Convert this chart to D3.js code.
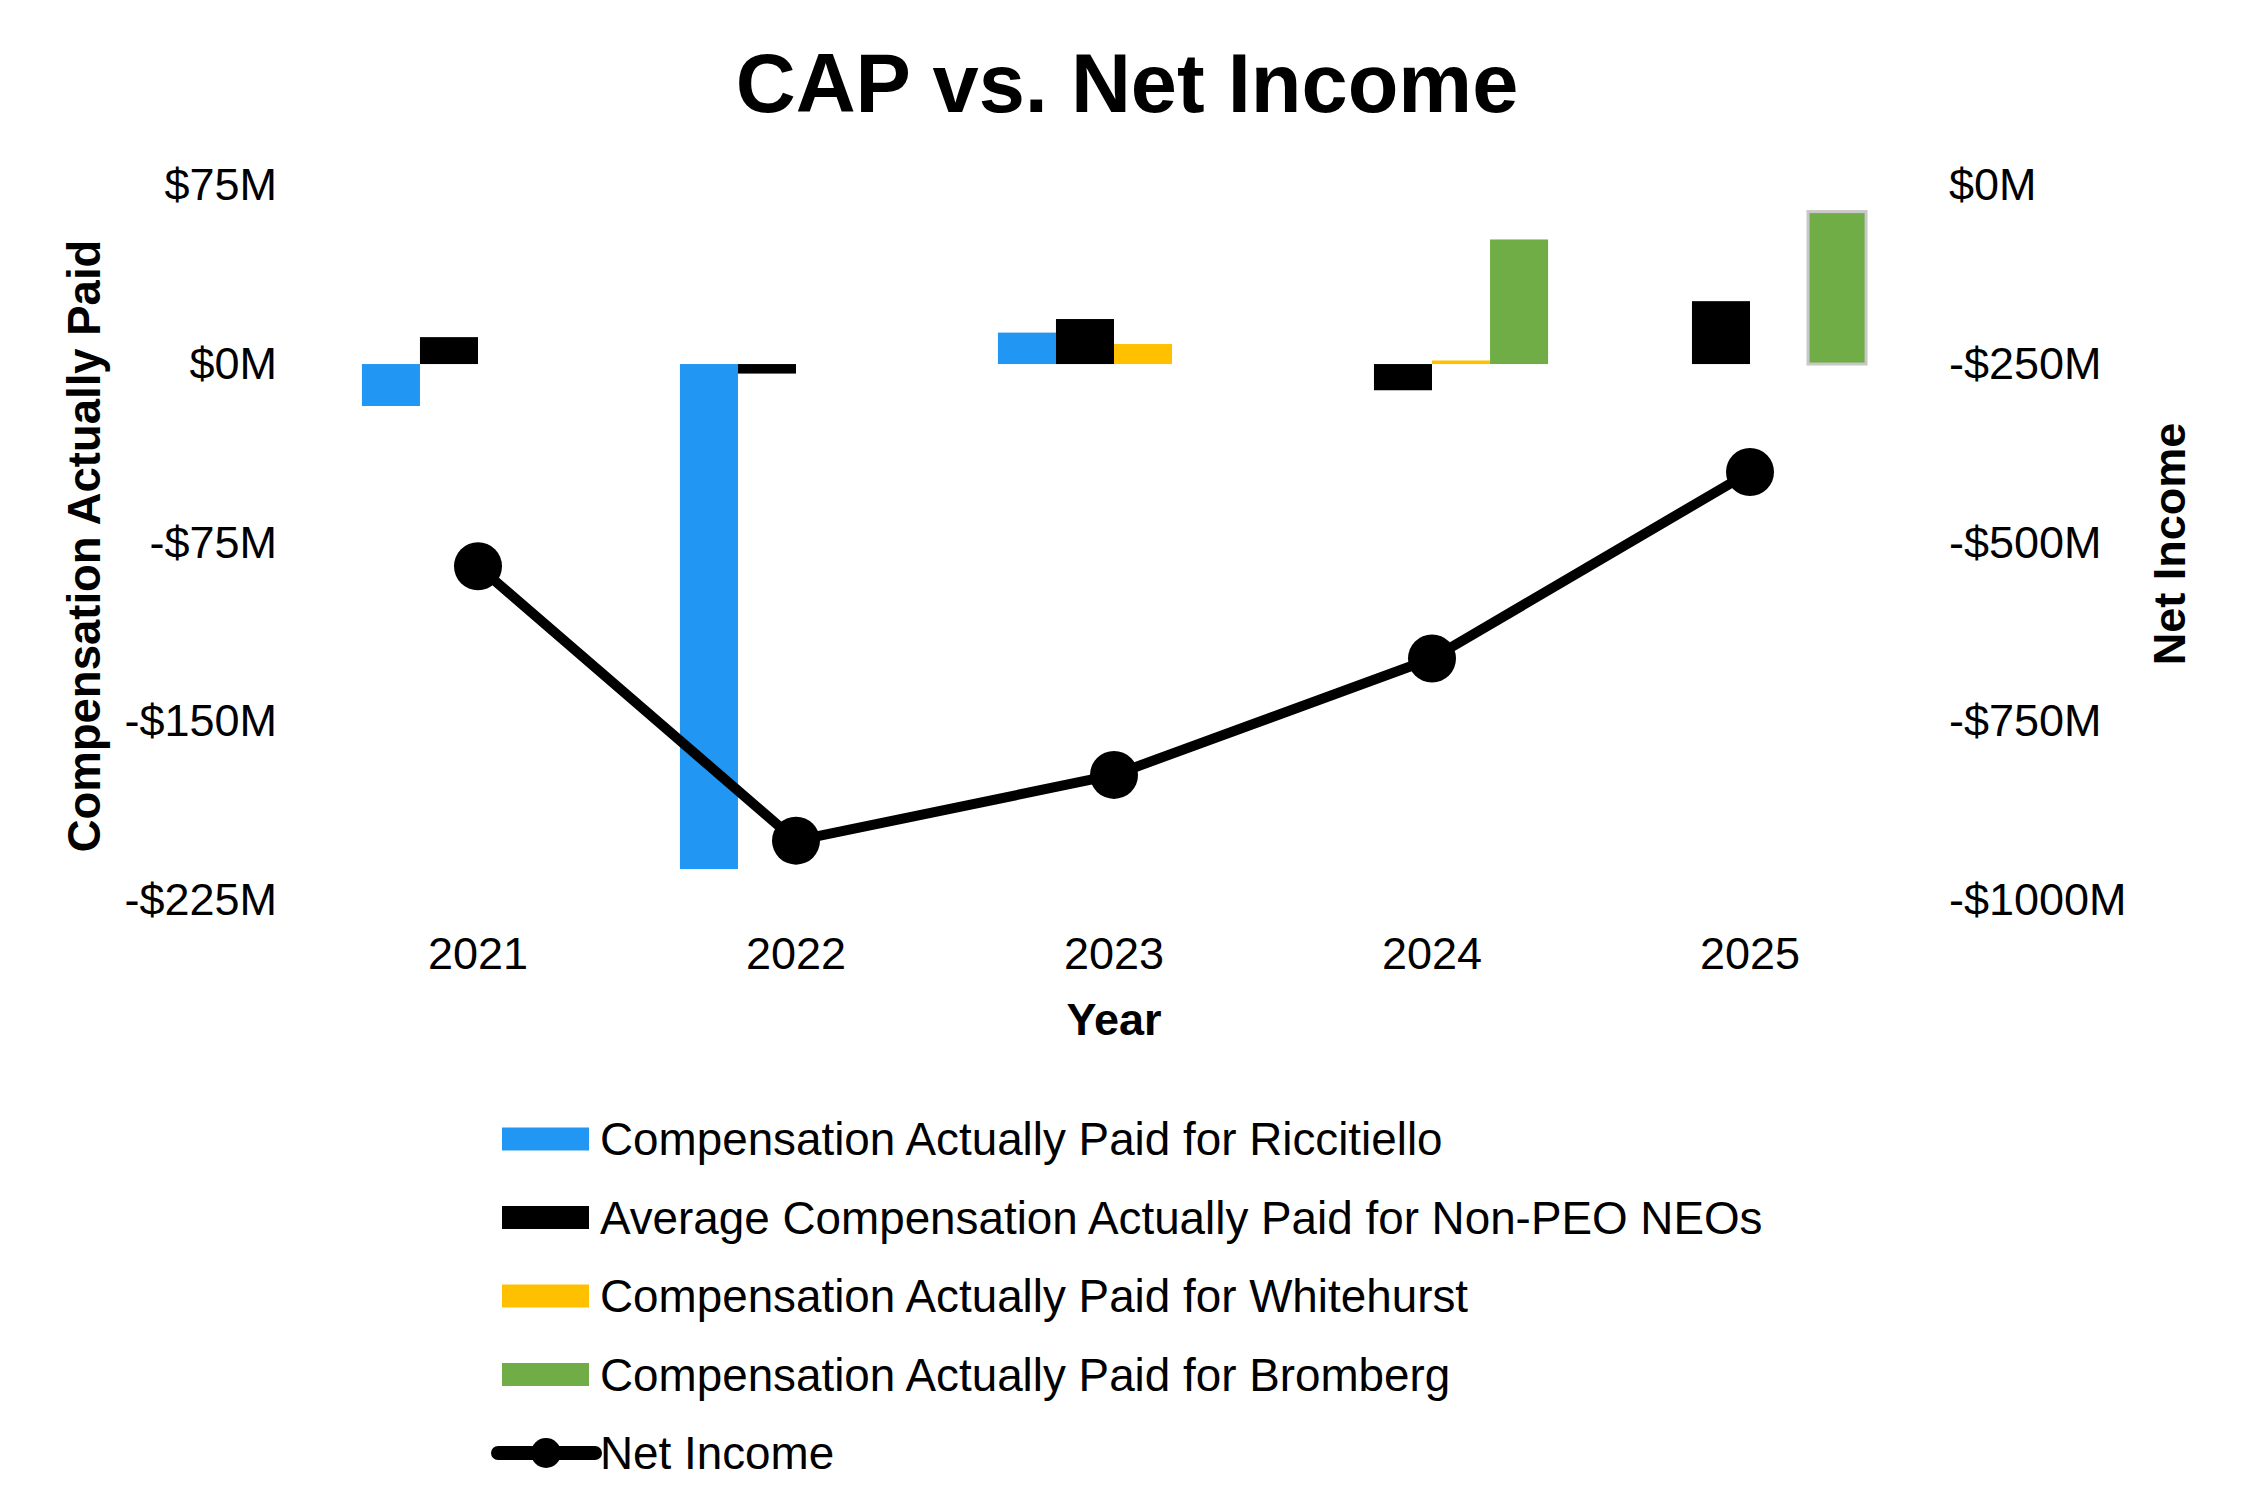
<!DOCTYPE html>
<html>
<head>
<meta charset="utf-8">
<script src="https://cdn.jsdelivr.net/npm/d3@7"></script>
<style>
  body { margin: 0; background: #fff; }
  text { font-family: "Liberation Sans", Arial, sans-serif; fill: #000; }
</style>
</head>
<body>
<div id="chart"></div>
<script>
// Data (values in $M)
const years = ['2021', '2022', '2023', '2024', '2025'];
const capRiccitiello = [-17.6, -212, 13.2, null, null];
const capNonPeo = [11.3, -4, 18.9, -11, 26.4];
const capWhitehurst = [null, null, 8.4, 1.5, null];
const capBromberg = [null, null, null, 52.3, 64];
const netIncome = [-533, -917, -825, -662, -401];

const leftTicks = [75, 0, -75, -150, -225];
const rightTicks = [0, -250, -500, -750, -1000];

const seriesNames = [
  'Compensation Actually Paid for Riccitiello',
  'Average Compensation Actually Paid for Non-PEO NEOs',
  'Compensation Actually Paid for Whitehurst',
  'Compensation Actually Paid for Bromberg'
];
const seriesValues = [capRiccitiello, capNonPeo, capWhitehurst, capBromberg];
const seriesColors = ['#2196F3', '#000000', '#FFC000', '#70AD47'];
const lineName = 'Net Income';

const width = 2252, height = 1512;
const plot = { left: 319, right: 1909, top: 185.4, bottom: 900 };

const svg = d3.select('#chart')
  .append('svg')
  .attr('width', width)
  .attr('height', height);

// Scales
const x0 = d3.scaleBand()
  .domain(years)
  .range([plot.left, plot.right])
  .paddingInner(0.27)
  .paddingOuter(0.135);

const x1 = d3.scaleBand()
  .domain(d3.range(seriesNames.length))
  .range([0, x0.bandwidth()]);

const yLeft = d3.scaleLinear().domain([-225, 75]).range([plot.bottom, plot.top]);
const yRight = d3.scaleLinear().domain([-1000, 0]).range([plot.bottom, plot.top]);

const moneyFormat = d => (d < 0 ? '-$' : '$') + Math.abs(d) + 'M';

// Title
svg.append('text')
  .attr('x', 1127)
  .attr('y', 112)
  .attr('text-anchor', 'middle')
  .style('font-size', '83px')
  .style('font-weight', 'bold')
  .text('CAP vs. Net Income');

// Left axis (labels only)
const leftAxis = svg.append('g')
  .attr('transform', 'translate(277,0)')
  .call(d3.axisLeft(yLeft).tickValues(leftTicks).tickSize(0).tickPadding(0)
    .tickFormat(moneyFormat));
leftAxis.select('.domain').remove();
leftAxis.selectAll('text')
  .style('font-size', '45px')
  .style('font-family', '"Liberation Sans", Arial, sans-serif')
  .attr('fill', '#000');

// Right axis (labels only)
const rightAxis = svg.append('g')
  .attr('transform', 'translate(1949,0)')
  .call(d3.axisRight(yRight).tickValues(rightTicks).tickSize(0).tickPadding(0)
    .tickFormat(moneyFormat));
rightAxis.select('.domain').remove();
rightAxis.selectAll('text')
  .style('font-size', '45px')
  .style('font-family', '"Liberation Sans", Arial, sans-serif')
  .attr('fill', '#000');

// X axis (labels only)
const xAxis = svg.append('g')
  .attr('transform', 'translate(0,940)')
  .call(d3.axisBottom(x0).tickSize(0).tickPadding(0));
xAxis.select('.domain').remove();
xAxis.selectAll('text')
  .attr('dy', '0.35em')
  .attr('y', 13)
  .style('font-size', '45px')
  .style('font-family', '"Liberation Sans", Arial, sans-serif')
  .attr('fill', '#000');

// Axis titles
svg.append('text')
  .attr('transform', 'translate(84,546) rotate(-90)')
  .attr('text-anchor', 'middle')
  .attr('dy', '0.35em')
  .style('font-size', '45.5px')
  .style('font-weight', 'bold')
  .text('Compensation Actually Paid');

svg.append('text')
  .attr('transform', 'translate(2169,544) rotate(-90)')
  .attr('text-anchor', 'middle')
  .attr('dy', '0.35em')
  .style('font-size', '45px')
  .style('font-weight', 'bold')
  .text('Net Income');

svg.append('text')
  .attr('x', x0(years[2]) + x0.bandwidth() / 2)
  .attr('y', 1019)
  .attr('dy', '0.35em')
  .attr('text-anchor', 'middle')
  .style('font-size', '45px')
  .style('font-weight', 'bold')
  .text('Year');

// Bars
const barData = [];
seriesValues.forEach((vals, si) => {
  vals.forEach((v, yi) => {
    if (v !== null) barData.push({ year: years[yi], series: si, value: v });
  });
});

svg.append('g')
  .selectAll('rect')
  .data(barData)
  .enter()
  .append('rect')
  .attr('x', d => x0(d.year) + x1(d.series))
  .attr('width', x1.bandwidth())
  .attr('y', d => yLeft(Math.max(0, d.value)))
  .attr('height', d => Math.abs(yLeft(d.value) - yLeft(0)))
  .attr('fill', d => seriesColors[d.series])
  .attr('stroke', d => (d.series === 3 && d.year === '2025') ? '#c8c8c8' : 'none')
  .attr('stroke-width', 3);

// Net income line
const lineData = years.map((yr, i) => ({ year: yr, value: netIncome[i] }));
const line = d3.line()
  .x(d => x0(d.year) + x0.bandwidth() / 2)
  .y(d => yRight(d.value));

svg.append('path')
  .datum(lineData)
  .attr('d', line)
  .attr('fill', 'none')
  .attr('stroke', '#000')
  .attr('stroke-width', 10)
  .attr('stroke-linejoin', 'round');

svg.append('g')
  .selectAll('circle')
  .data(lineData)
  .enter()
  .append('circle')
  .attr('cx', d => x0(d.year) + x0.bandwidth() / 2)
  .attr('cy', d => yRight(d.value))
  .attr('r', 24)
  .attr('fill', '#000');

// Legend
const legend = svg.append('g').attr('transform', 'translate(502,1139)');
const rowGap = 78.5;

seriesNames.forEach((name, i) => {
  const row = legend.append('g').attr('transform', `translate(0,${i * rowGap})`);
  row.append('rect')
    .attr('x', 0)
    .attr('y', -11.5)
    .attr('width', 87)
    .attr('height', 23)
    .attr('fill', seriesColors[i]);
  row.append('text')
    .attr('x', 98)
    .attr('dy', '0.35em')
    .style('font-size', '45.8px')
    .text(name);
});

const lineRow = legend.append('g').attr('transform', `translate(0,${4 * rowGap})`);
lineRow.append('line')
  .attr('x1', -4).attr('x2', 93)
  .attr('stroke', '#000')
  .attr('stroke-width', 14)
  .attr('stroke-linecap', 'round');
lineRow.append('circle')
  .attr('cx', 44)
  .attr('r', 15)
  .attr('fill', '#000');
lineRow.append('text')
  .attr('x', 98)
  .attr('dy', '0.35em')
  .style('font-size', '45.8px')
  .text(lineName);
</script>
</body>
</html>
